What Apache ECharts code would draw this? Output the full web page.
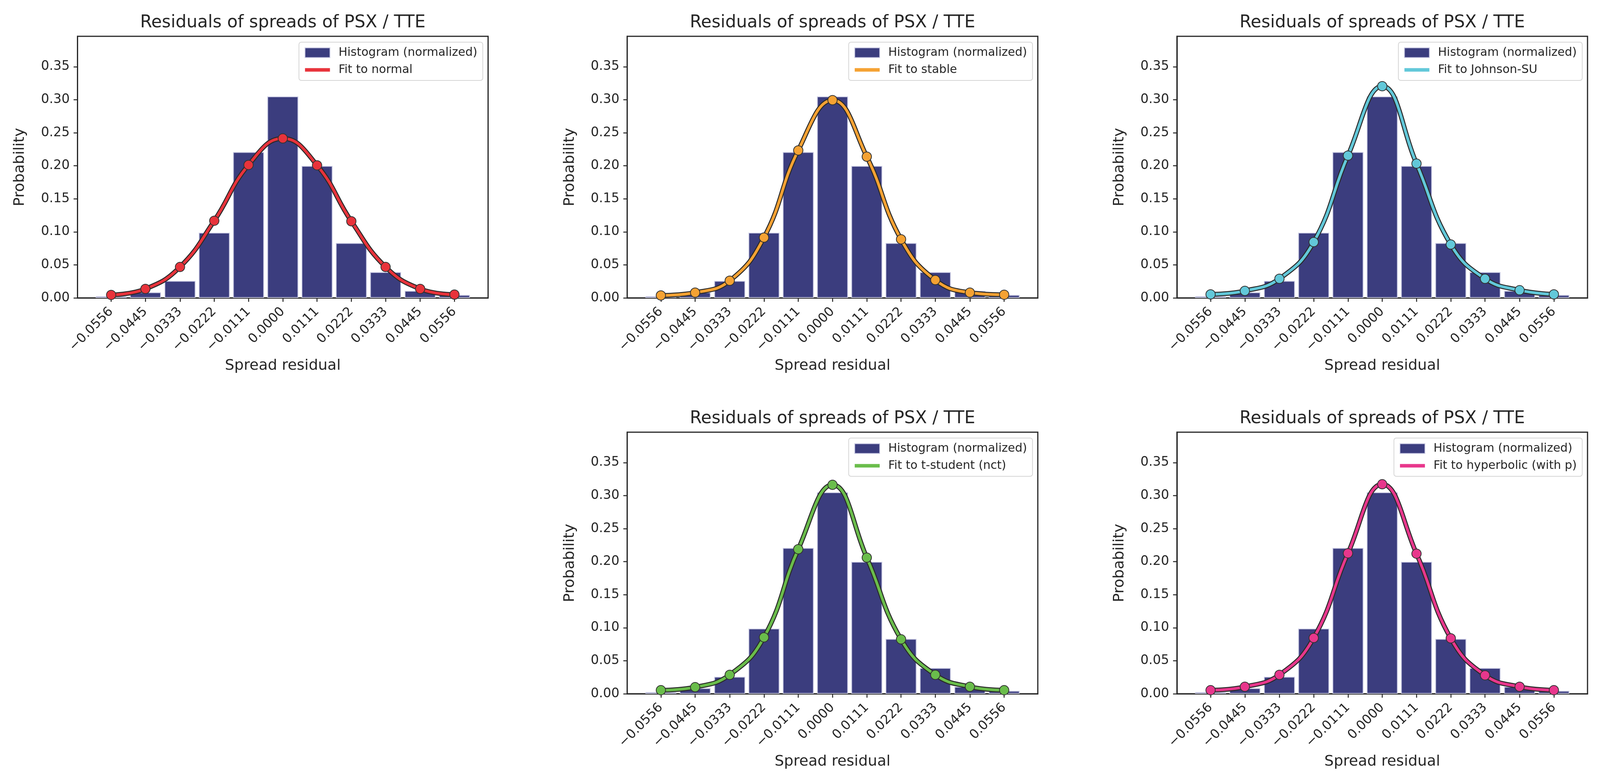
<!DOCTYPE html>
<html>
<head>
<meta charset="utf-8">
<title>Residuals of spreads of PSX / TTE</title>
<script src="https://cdn.jsdelivr.net/npm/echarts@6/dist/echarts.min.js"></script>
<style>
  html, body { margin: 0; padding: 0; background: #fff; overflow: hidden; }
  #chart { width: 100%; height: 2003px; }
</style>
</head>
<body>
<div id="chart"></div>
<script>
// bin centres of the histogram and the tick labels printed under them
var binCenters = [-0.0556, -0.0445, -0.0333, -0.0222, -0.0111, 0, 0.0111, 0.0222, 0.0333, 0.0445, 0.0556];
var xTickLabels = ['\u22120.0556', '\u22120.0445', '\u22120.0333', '\u22120.0222', '\u22120.0111', '0.0000',
                   '0.0111', '0.0222', '0.0333', '0.0445', '0.0556'];
var yTicks = [0, 0.05, 0.10, 0.15, 0.20, 0.25, 0.30, 0.35];

// normalized histogram (same in every panel)
var histValues = [0.0025, 0.0084, 0.0257, 0.0987, 0.2208, 0.305, 0.1997, 0.083, 0.039, 0.0106, 0.0044];

// fitted densities, read at the bin centres
var fitNormal     = [0.0045, 0.0136, 0.0468, 0.1168, 0.2013, 0.2414, 0.2007, 0.1160, 0.0468, 0.0136, 0.0050];
var fitStable     = [0.0037, 0.0080, 0.0260, 0.0913, 0.2233, 0.2994, 0.2138, 0.0887, 0.0270, 0.0080, 0.0048];
var fitJohnson    = [0.0053, 0.0106, 0.0290, 0.0845, 0.2154, 0.3205, 0.2033, 0.0808, 0.0290, 0.0116, 0.0053];
var fitStudent    = [0.0054, 0.0100, 0.0287, 0.0854, 0.2188, 0.3163, 0.2061, 0.0824, 0.0287, 0.0106, 0.0054];
var fitHyperbolic = [0.0054, 0.0106, 0.0287, 0.0845, 0.2127, 0.3172, 0.2121, 0.0839, 0.0280, 0.0106, 0.0054];

var titleText = 'Residuals of spreads of PSX / TTE';
var histName = 'Histogram (normalized)';

var panels = [
    { fit: 'Fit to normal',              color: '#e8333b', values: fitNormal,     col: 0, row: 0 },
    { fit: 'Fit to stable',              color: '#f5a233', values: fitStable,     col: 1, row: 0 },
    { fit: 'Fit to Johnson-SU',          color: '#62c8d9', values: fitJohnson,    col: 2, row: 0 },
    { fit: 'Fit to t-student (nct)',     color: '#6abd4b', values: fitStudent,    col: 1, row: 1 },
    { fit: 'Fit to hyperbolic (with p)', color: '#e8378c', values: fitHyperbolic, col: 2, row: 1 }
];

var FONT = 'DejaVu Sans';
var INK = '#262626';
var W = 4232;                       // width of the original figure
var colLeft = [205, 1659, 3113];
var rowTop = [93, 1107];
var gw = 1086, gh = 670;

var dom = document.getElementById('chart');
// the window may be narrower than the figure: squeeze the horizontal layout to fit
var sx = (dom.clientWidth || W) / W;
var CW = W * sx;

function tickLabel(v) {
    for (var k = 0; k < binCenters.length; k++) {
        if (Math.abs(binCenters[k] - v) < 1e-7) return xTickLabels[k];
    }
    return '';
}

function pairs(ys) {
    return binCenters.map(function (x, k) { return [x, ys[k]]; });
}

var chart = echarts.init(dom, null, { renderer: 'canvas' });

var option = {
    backgroundColor: '#ffffff',
    animation: false,
    title: [],
    legend: [],
    grid: [],
    xAxis: [],
    yAxis: [],
    series: []
};

panels.forEach(function (p, i) {
    var left = colLeft[p.col] * sx;
    var top = rowTop[p.row];
    var width = gw * sx;

    option.title.push({
        text: titleText,
        left: left + width / 2,
        top: top - 56,
        textAlign: 'center',
        padding: 0,
        textStyle: { fontFamily: FONT, fontSize: 44, fontWeight: 'normal', color: INK }
    });

    option.grid.push({
        left: left, top: top, width: width, height: gh,
        show: true, borderColor: INK, borderWidth: 3, backgroundColor: 'transparent'
    });

    option.xAxis.push({
        gridIndex: i,
        type: 'value',
        min: -0.0665,
        max: 0.0665,
        splitLine: { show: false },
        axisLine: { show: true, onZero: false, lineStyle: { color: INK, width: 3 } },
        axisTick: { show: true, customValues: binCenters, length: 10, lineStyle: { color: INK, width: 2.5 } },
        axisLabel: {
            customValues: binCenters,
            rotate: 45,
            margin: 30,
            fontFamily: FONT,
            fontSize: 33,
            color: INK,
            formatter: tickLabel
        },
        name: 'Spread residual',
        nameLocation: 'middle',
        nameGap: 155,
        nameTextStyle: { fontFamily: FONT, fontSize: 38, color: INK }
    });

    option.yAxis.push({
        gridIndex: i,
        type: 'value',
        min: 0,
        max: 0.396,
        splitLine: { show: false },
        axisLine: { show: true, onZero: false, lineStyle: { color: INK, width: 3 } },
        axisTick: { show: true, customValues: yTicks, length: 10, lineStyle: { color: INK, width: 2.5 } },
        axisLabel: {
            customValues: yTicks,
            margin: 20,
            fontFamily: FONT,
            fontSize: 33,
            color: INK,
            formatter: function (v) { return v.toFixed(2); }
        },
        name: 'Probability',
        nameLocation: 'middle',
        nameRotate: 90,
        nameGap: 128,
        nameTextStyle: { fontFamily: FONT, fontSize: 38, color: INK }
    });

    option.legend.push({
        orient: 'vertical',
        right: CW - (left + width - 14 * sx),
        top: top + 15,
        itemWidth: 66 * sx,
        itemHeight: 25,
        itemGap: 14,
        padding: [12, 14, 12, 11],
        backgroundColor: 'rgba(255,255,255,0.8)',
        borderColor: '#d6d6d6',
        borderWidth: 2,
        borderRadius: 6,
        selectedMode: false,
        textStyle: { fontFamily: FONT, fontSize: 30, color: INK, padding: [0, 0, 0, 17] },
        data: [
            { name: histName, icon: 'rect' },
            { name: p.fit, itemStyle: { opacity: 0 }, lineStyle: { width: 9, color: p.color } }
        ]
    });

    // histogram bars
    option.series.push({
        type: 'bar',
        name: histName,
        xAxisIndex: i,
        yAxisIndex: i,
        data: pairs(histValues),
        barWidth: 82 * sx,
        itemStyle: { color: '#3b3d7e', borderColor: '#c9cae3', borderWidth: 2 },
        z: 2
    });

    // dark outline under the fit line
    option.series.push({
        type: 'line',
        name: p.fit + ' (outline)',
        xAxisIndex: i,
        yAxisIndex: i,
        data: pairs(p.values),
        smooth: 0.45,
        symbol: 'none',
        silent: true,
        lineStyle: { color: '#2a2a2a', width: 12 },
        z: 3
    });

    // the fit itself, markers at the bin centres
    option.series.push({
        type: 'line',
        name: p.fit,
        xAxisIndex: i,
        yAxisIndex: i,
        data: pairs(p.values),
        smooth: 0.45,
        symbol: 'circle',
        symbolSize: 24,
        showSymbol: true,
        lineStyle: { color: p.color, width: 7 },
        itemStyle: { color: p.color, borderColor: '#333333', borderWidth: 2 },
        z: 4
    });
});

chart.setOption(option);
</script>
</body>
</html>
